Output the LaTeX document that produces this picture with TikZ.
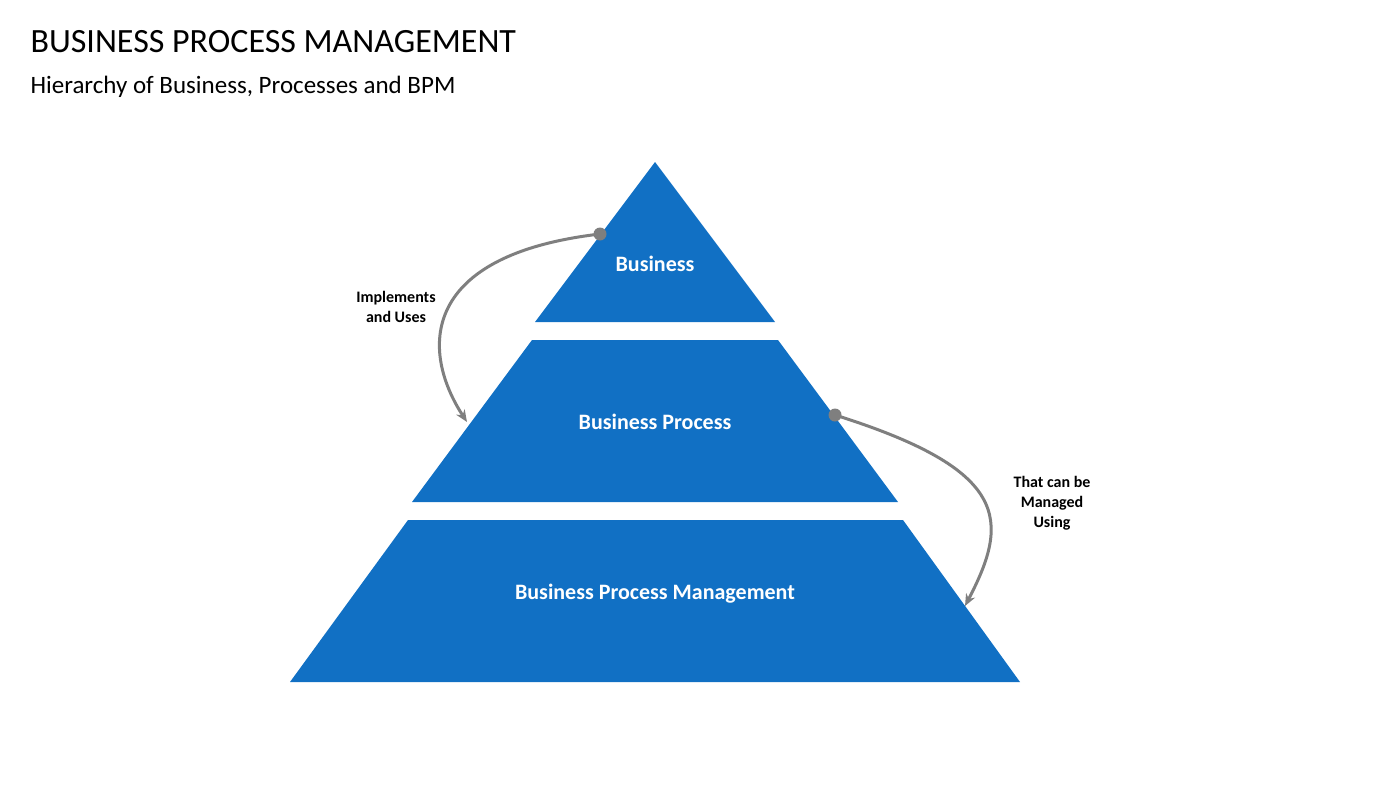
\documentclass[tikz,border=0pt]{standalone}
\usepackage{fontspec}
\setmainfont{Carlito}
\usetikzlibrary{arrows.meta}
\definecolor{pyr}{HTML}{1170C4}
\definecolor{arr}{HTML}{7F7F7F}
\begin{document}
\begin{tikzpicture}[x=1pt,y=-1pt,
  lvl/.style={fill=pyr,draw=none},
  lbl/.style={text=white,font=\fontsize{22}{26}\selectfont\bfseries},
  note/.style={font=\fontsize{16}{20}\selectfont\bfseries,align=center},
  conn/.style={draw=arr,line width=3pt,-{Stealth[length=12pt,width=10pt]}}]
\useasboundingbox (0,0) rectangle (1400,788);
\node[anchor=west,font=\fontsize{34}{40}\selectfont] (title) at (27,42) {BUSINESS PROCESS MANAGEMENT};
\node[anchor=west,font=\fontsize{25}{30}\selectfont] (sub) at (27,87) {Hierarchy of Business, Processes and BPM};
\fill[lvl] (655,162) -- (775,322) -- (535,322) -- cycle;
\fill[lvl] (532,340) -- (778,340) -- (898,502) -- (412,502) -- cycle;
\fill[lvl] (408,520) -- (903,520) -- (1020,682) -- (290,682) -- cycle;
\node[lbl] (b) at (655,264) {Business};
\node[lbl] (bp) at (655,422) {Business Process};
\node[lbl] (bpm) at (655,594) {Business Process Management};
\coordinate (d1) at (600,234);
\coordinate (e1) at (467,422);
\coordinate (d2) at (835,415);
\coordinate (e2) at (965,606);
\draw[conn] (d1) .. controls (420,255) and (420,350) .. (e1);
\fill[arr] (d1) circle (6.5);
\draw[conn] (d2) .. controls (1010,470) and (1010,520) .. (e2);
\fill[arr] (d2) circle (6.5);
\node[note] (n1) at (396,307) {Implements\\and Uses};
\node[note] (n2) at (1052,503) {That can be\\Managed\\Using};
\end{tikzpicture}
\end{document}
